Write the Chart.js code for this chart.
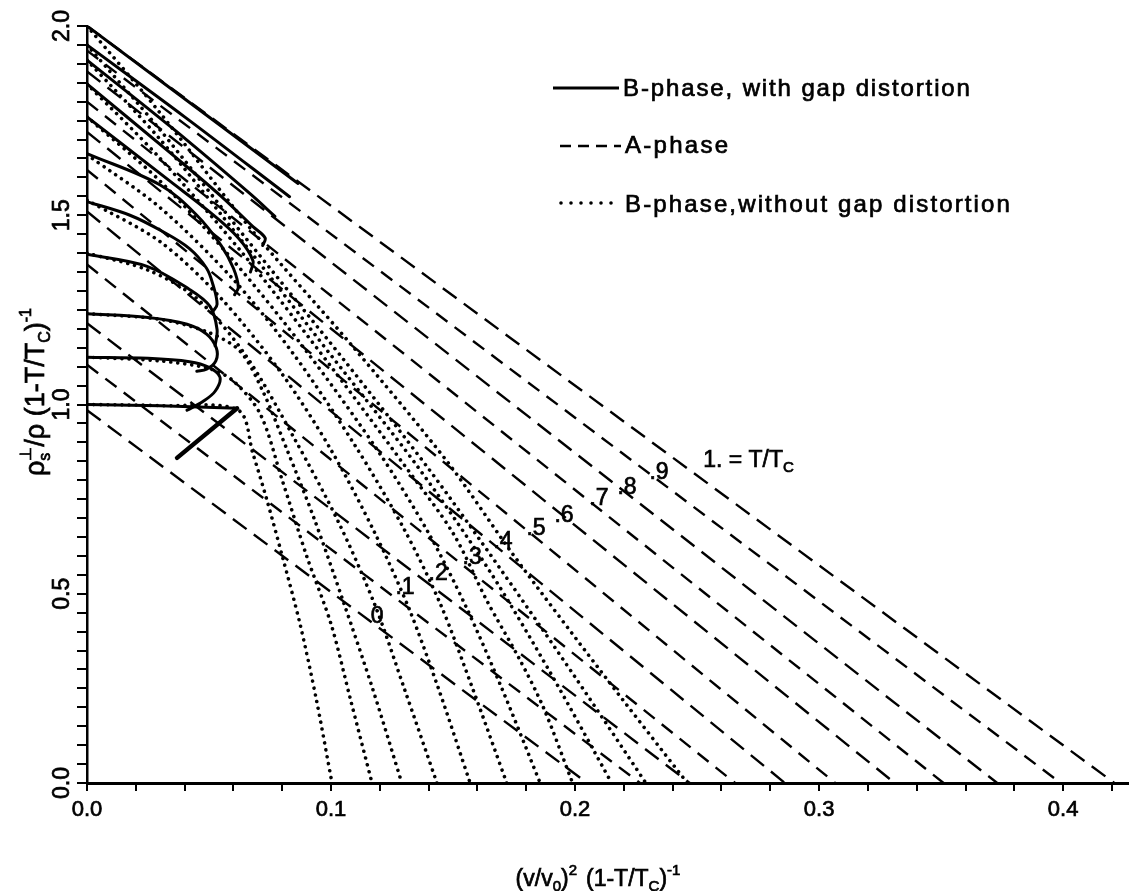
<!DOCTYPE html>
<html>
<head>
<meta charset="utf-8">
<script src="https://cdn.jsdelivr.net/npm/chart.js@4.4.0/dist/chart.umd.min.js"></script>
<style>
html,body{margin:0;padding:0;background:#fff;}
#wrap{width:1129px;height:891px;position:relative;}
</style>
</head>
<body>
<div id="wrap"><canvas id="c" width="1129" height="891"></canvas></div>
<script>
// ---------- DATA ----------
const T_LABELS = ['0', '.1', '.2', '.3', '.4', '.5', '.6', '.7', '.8', '.9'];
const LABEL_X = [0.1189, 0.1303, 0.1439, 0.1578, 0.1705, 0.1840, 0.1955, 0.2098, 0.2213, 0.2344];
const LABEL_Y = [0.440, 0.516, 0.553, 0.596, 0.638, 0.672, 0.706, 0.751, 0.780, 0.820];
const TC_LABEL_POS = [0.2525, 0.856];

// A-phase straight lines: y-intercept and x-intercept for T/Tc = 0, .1, ..., 1
const A_Y0 = [0.985, 1.105, 1.215, 1.370, 1.510, 1.620, 1.720, 1.800, 1.880, 1.935, 2.000];
const A_X0 = [0.205, 0.2266, 0.247, 0.2656, 0.286, 0.3066, 0.331, 0.351, 0.373, 0.399, 0.421];

// B-phase with gap distortion (solid)
const solid_0  = [[0,1.000],[0.030,0.997],[0.0615,0.990],[0.0369,0.859]];
const solid_1  = [[0,1.125],[0.025,1.122],[0.042,1.113],[0.050,1.098],[0.0545,1.072],[0.0525,1.035],[0.0475,1.008],[0.041,0.985]];
const solid_2  = [[0,1.240],[0.025,1.230],[0.041,1.212],[0.049,1.186],[0.053,1.149],[0.0528,1.115],[0.049,1.093],[0.045,1.088]];
const solid_3  = [[0,1.397],[0.0246,1.365],[0.042,1.304],[0.0504,1.259],[0.0533,1.198],[0.0525,1.155]];
const solid_4  = [[0,1.536],[0.0176,1.500],[0.031,1.457],[0.042,1.412],[0.049,1.360],[0.0516,1.317],[0.0533,1.265],[0.0515,1.245]];
const solid_5  = [[0,1.663],[0.030,1.580],[0.045,1.500],[0.055,1.420],[0.060,1.360],[0.062,1.310],[0.0605,1.290]];
const solid_6  = [[0,1.760],[0.034,1.590],[0.050,1.510],[0.062,1.440],[0.068,1.380],[0.067,1.350]];
const solid_7  = [[0,1.847],[0.035,1.660],[0.055,1.550],[0.068,1.470],[0.073,1.440],[0.072,1.420]];
const solid_8  = [[0,1.910],[0.035,1.730],[0.0668,1.557],[0.077,1.497]];
const solid_9  = [[0,1.950],[0.040,1.760],[0.083,1.549]];
const solid_10 = [[0,2.000],[0.0865,1.584]];

// B-phase without gap distortion (dotted)
const dotted_0  = [[0,1.000],[0.030,0.997],[0.062,0.985],[0.068,0.870],[0.0738,0.746],[0.080,0.600],[0.0873,0.420],[0.094,0.220],[0.1004,0]];
const dotted_1  = [[0,1.125],[0.030,1.115],[0.050,1.095],[0.060,1.062],[0.071,0.975],[0.080,0.800],[0.090,0.600],[0.100,0.420],[0.108,0.220],[0.1168,0]];
const dotted_2  = [[0,1.240],[0.030,1.225],[0.050,1.190],[0.0627,1.141],[0.072,1.036],[0.082,0.880],[0.093,0.700],[0.105,0.480],[0.117,0.250],[0.129,0]];
const dotted_3  = [[0,1.400],[0.025,1.355],[0.045,1.280],[0.065,1.130],[0.085,0.910],[0.103,0.690],[0.118,0.470],[0.130,0.250],[0.1434,0]];
const dotted_4  = [[0,1.540],[0.030,1.430],[0.055,1.280],[0.080,1.080],[0.100,0.880],[0.118,0.660],[0.132,0.460],[0.144,0.250],[0.157,0]];
const dotted_5  = [[0,1.660],[0.030,1.520],[0.060,1.330],[0.085,1.130],[0.110,0.890],[0.130,0.670],[0.145,0.470],[0.158,0.250],[0.172,0]];
const dotted_6  = [[0,1.760],[0.030,1.590],[0.060,1.380],[0.090,1.140],[0.120,0.870],[0.140,0.660],[0.155,0.470],[0.170,0.250],[0.1857,0]];
const dotted_7  = [[0,1.847],[0.030,1.650],[0.065,1.390],[0.100,1.100],[0.130,0.840],[0.150,0.660],[0.164,0.480],[0.177,0.330],[0.187,0.200],[0.199,0]];
const dotted_8  = [[0,1.910],[0.030,1.700],[0.065,1.420],[0.100,1.130],[0.135,0.840],[0.165,0.560],[0.190,0.290],[0.215,0]];
const dotted_9  = [[0,1.950],[0.030,1.725],[0.065,1.440],[0.105,1.120],[0.140,0.830],[0.170,0.560],[0.200,0.280],[0.229,0]];
const dotted_10 = [[0,2.000],[0.030,1.770],[0.067,1.465],[0.108,1.160],[0.1475,0.850],[0.175,0.600],[0.210,0.300],[0.246,0]];

const X_TICKS = [0,0.02,0.04,0.06,0.08,0.10,0.12,0.14,0.16,0.18,0.20,0.22,0.24,0.26,0.28,0.30,0.32,0.34,0.36,0.38,0.40,0.42];
const X_TICK_LABELS = ['0.0','0.1','0.2','0.3','0.4'];
const Y_TICKS = [0,0.05,0.10,0.15,0.20,0.25,0.30,0.35,0.40,0.45,0.50,0.55,0.60,0.65,0.70,0.75,0.80,0.85,0.90,0.95,1.00,
                 1.05,1.10,1.15,1.20,1.25,1.30,1.35,1.40,1.45,1.50,1.55,1.60,1.65,1.70,1.75,1.80,1.85,1.90,1.95,2.00];
const Y_TICK_LABELS = ['0.0','0.5','1.0','1.5','2.0'];

// ---------- BUILD ----------
const FONT = '"Liberation Sans", Arial, Helvetica, sans-serif';
const SOLIDS = [solid_0,solid_1,solid_2,solid_3,solid_4,solid_5,solid_6,solid_7,solid_8,solid_9,solid_10];
const DOTS = [dotted_0,dotted_1,dotted_2,dotted_3,dotted_4,dotted_5,dotted_6,dotted_7,dotted_8,dotted_9,dotted_10];
const toXY = arr => arr.map(p => ({x: p[0], y: p[1]}));
const datasets = [];
SOLIDS.forEach((arr, i) => {
  datasets.push({
    label: 'B-phase, with gap distortion T/Tc=' + (i/10).toFixed(1),
    data: toXY(arr), showLine: true, borderColor: '#000', borderWidth: 3,
    tension: i === 0 ? 0 : 0.35, pointRadius: 0, fill: false,
    borderCapStyle: 'round', borderJoinStyle: 'round',
    segment: i === 0 ? { borderWidth: c => c.p1DataIndex === 3 ? 4.5 : 3 } : undefined
  });
});
DOTS.forEach((arr, i) => {
  datasets.push({
    label: 'B-phase, without gap distortion T/Tc=' + (i/10).toFixed(1),
    data: toXY(arr), showLine: true, borderColor: '#000', borderWidth: 3.6,
    borderDash: [0.001, 7], borderCapStyle: 'round', tension: 0.3, pointRadius: 0, fill: false
  });
});
A_Y0.forEach((y0, i) => {
  datasets.push({
    label: 'A-phase T/Tc=' + (i/10).toFixed(1),
    data: [{x: 0, y: y0}, {x: A_X0[i], y: 0}], showLine: true, borderColor: '#000', borderWidth: 2.4,
    borderDash: i % 2 === 0 ? [17, 9] : [14, 9], tension: 0, pointRadius: 0, fill: false
  });
});

function richWidth(ctx, pieces) {
  let cx = 0, lastStart = 0;
  for (const p of pieces) {
    ctx.font = p.s + 'px ' + FONT;
    const w = ctx.measureText(p.t).width;
    const px = p.stack ? lastStart : cx;
    if (!p.stack) lastStart = cx;
    cx = Math.max(cx, px + w + (p.gap || 0));
  }
  return cx;
}
function drawRich(ctx, pieces, x, y) {
  let cx = x, lastStart = x;
  for (const p of pieces) {
    ctx.font = p.s + 'px ' + FONT;
    const w = ctx.measureText(p.t).width;
    const px = p.stack ? lastStart : cx;
    if (!p.stack) lastStart = cx;
    ctx.fillText(p.t, px, y + (p.dy || 0));
    ctx.strokeText(p.t, px, y + (p.dy || 0));
    cx = Math.max(cx, px + w + (p.gap || 0));
  }
}
function spacedText(ctx, text, x, y, targetW, size) {
  ctx.font = size + 'px ' + FONT;
  const w = ctx.measureText(text).width;
  if ('letterSpacing' in ctx) {
    const ls = (targetW - w) / (text.length - 1);
    ctx.letterSpacing = ls.toFixed(2) + 'px';
    ctx.fillText(text, x, y);
    ctx.strokeText(text, x, y);
    ctx.letterSpacing = '0px';
  } else {
    ctx.fillText(text, x, y);
    ctx.strokeText(text, x, y);
  }
}

const textPlugin = {
  id: 'texts',
  afterDraw(chart) {
    const ctx = chart.ctx, xs = chart.scales.x, ys = chart.scales.y;
    ctx.save();
    ctx.fillStyle = '#000'; ctx.strokeStyle = '#000'; ctx.lineWidth = 0.7;
    // temperature labels
    ctx.font = '23px ' + FONT; ctx.textAlign = 'center'; ctx.textBaseline = 'middle';
    T_LABELS.forEach((t, i) => {
      const px = xs.getPixelForValue(LABEL_X[i]), py = ys.getPixelForValue(LABEL_Y[i]);
      ctx.fillText(t, px, py); ctx.strokeText(t, px, py);
    });
    ctx.textAlign = 'left'; ctx.textBaseline = 'alphabetic';
    const tx = xs.getPixelForValue(TC_LABEL_POS[0]), ty = ys.getPixelForValue(TC_LABEL_POS[1]) + 8;
    drawRich(ctx, [{t:'1. = T/T', s:23}, {t:'C', s:15, dy:5}], tx, ty);

    // legend
    ctx.lineWidth = 2.8; ctx.setLineDash([]);
    ctx.beginPath(); ctx.moveTo(553, 88); ctx.lineTo(619, 88); ctx.stroke();
    ctx.lineWidth = 2.6; ctx.setLineDash([11, 7]);
    ctx.beginPath(); ctx.moveTo(560, 146); ctx.lineTo(621, 146); ctx.stroke();
    ctx.lineWidth = 3.6; ctx.setLineDash([0.001, 10]); ctx.lineCap = 'round';
    ctx.beginPath(); ctx.moveTo(561, 203); ctx.lineTo(615, 203); ctx.stroke();
    ctx.setLineDash([]); ctx.lineCap = 'butt'; ctx.lineWidth = 0.7;
    spacedText(ctx, 'B-phase, with gap distortion', 623, 96, 347, 24);
    spacedText(ctx, 'A-phase', 625, 153, 103, 24);
    spacedText(ctx, 'B-phase,without gap distortion', 625, 212, 385, 24);

    // x axis title
    const xt = [{t:'(v/v', s:23}, {t:'0', s:15, dy:5}, {t:')', s:23}, {t:'2', s:15, dy:-11, gap:9},
                {t:'(1-T/T', s:23}, {t:'C', s:15, dy:5}, {t:')', s:23}, {t:'-1', s:15, dy:-11}];
    const xw = richWidth(ctx, xt);
    drawRich(ctx, xt, 598 - xw / 2, 886);

    // y axis title (rotated)
    const yt = [{t:'ρ', s:27}, {t:'⊥', s:16, dy:-13}, {t:'s', s:16, dy:6, stack:true},
                {t:'/ρ (1-T/T', s:27}, {t:'C', s:16, dy:6}, {t:')', s:27}, {t:'-1', s:16, dy:-13}];
    ctx.save();
    ctx.translate(44, 392); ctx.rotate(-Math.PI / 2);
    const yw = richWidth(ctx, yt);
    drawRich(ctx, yt, -yw / 2, 0);
    ctx.restore();
    ctx.restore();
  }
};

const isMajorX = v => X_TICK_LABELS.includes(v.toFixed(1)) && Math.abs(v * 10 - Math.round(v * 10)) < 1e-6;
const isMajorY = v => Y_TICK_LABELS.includes(v.toFixed(1)) && Math.abs(v * 2 - Math.round(v * 2)) < 1e-6;

new Chart(document.getElementById('c'), {
  type: 'scatter',
  data: { datasets },
  options: {
    responsive: false, devicePixelRatio: 1, animation: false,
    layout: { padding: { top: 26, right: 0, bottom: 0, left: 0 } },
    plugins: { legend: { display: false }, tooltip: { enabled: false } },
    scales: {
      x: {
        type: 'linear', min: 0, max: 0.427,
        afterBuildTicks: s => { s.ticks = X_TICKS.map(v => ({ value: v })); },
        afterFit: s => { s.height = 108; },
        ticks: {
          autoSkip: false, minRotation: 0, maxRotation: 0, padding: 6, color: '#000',
          textStrokeColor: '#000', textStrokeWidth: 0.7,
          font: { family: FONT, size: 22 },
          callback: v => isMajorX(v) ? v.toFixed(1) : ''
        },
        grid: { drawOnChartArea: false, drawTicks: true, tickLength: 8, color: '#000', lineWidth: 2 },
        border: { display: true, color: '#000', width: 3 }
      },
      y: {
        type: 'linear', min: 0, max: 2.0,
        afterBuildTicks: s => { s.ticks = Y_TICKS.map(v => ({ value: v })); },
        afterFit: s => { s.width = 87; },
        ticks: {
          autoSkip: false, minRotation: 90, maxRotation: 90, crossAlign: 'center', padding: -1.5, color: '#000',
          textStrokeColor: '#000', textStrokeWidth: 0.7,
          font: { family: FONT, size: 23 },
          callback: v => isMajorY(v) ? v.toFixed(1) : ''
        },
        grid: { drawOnChartArea: false, drawTicks: true, tickLength: 10, color: '#000', lineWidth: 2 },
        border: { display: true, color: '#000', width: 2.5 }
      }
    }
  },
  plugins: [textPlugin]
});
</script>
</body>
</html>
